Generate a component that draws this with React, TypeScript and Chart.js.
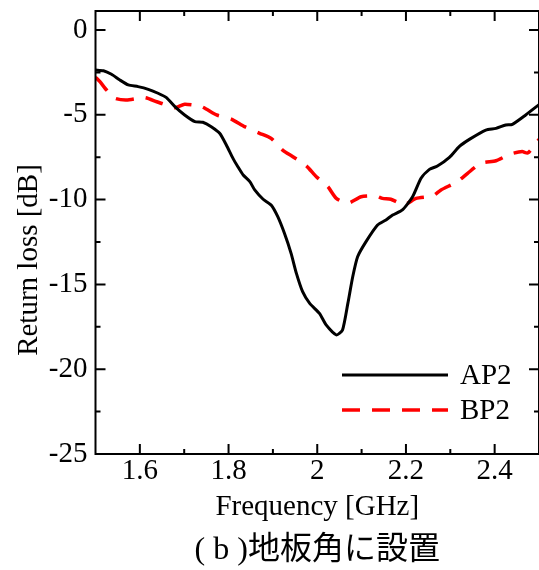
import React, { useEffect, useRef } from 'react';
import { Chart, registerables } from 'chart.js';

Chart.register(...registerables);

// ---- data ----
const apFreq = [
  1.5, 1.518, 1.536, 1.555, 1.574, 1.596, 1.619, 1.641, 1.66, 1.679, 1.701, 1.724, 1.742, 1.761,
  1.78, 1.795, 1.81, 1.821, 1.833, 1.848, 1.859, 1.878, 1.896, 1.911, 1.926, 1.941, 1.953, 1.967,
  1.983, 2.005, 2.02, 2.043, 2.057, 2.069, 2.08, 2.091, 2.11, 2.136, 2.155, 2.17, 2.192, 2.215,
  2.234, 2.253, 2.271, 2.298, 2.32, 2.343, 2.38, 2.403, 2.425, 2.44, 2.47, 2.5,
];
const apLoss = [
  -2.36, -2.4, -2.61, -2.95, -3.24, -3.34, -3.5, -3.73, -3.99, -4.52, -5.01, -5.4, -5.44, -5.7,
  -6.09, -6.78, -7.57, -8.06, -8.55, -8.94, -9.43, -9.98, -10.32, -11.01, -11.99, -13.17, -14.35, -15.43,
  -16.12, -16.71, -17.39, -17.98, -17.69, -16.12, -14.55, -13.37, -12.48, -11.5, -11.2, -10.91, -10.61, -9.83,
  -8.74, -8.22, -8.02, -7.51, -6.88, -6.45, -5.9, -5.8, -5.6, -5.56, -5.01, -4.4,
];
const bpFreq = [
  1.5, 1.51, 1.525, 1.544, 1.57, 1.611, 1.638, 1.679, 1.701, 1.739, 1.773, 1.806, 1.836, 1.87,
  1.896, 1.922, 1.945, 1.975, 1.998, 2.024, 2.043, 2.069, 2.099, 2.133, 2.147, 2.166, 2.196, 2.223,
  2.26, 2.279, 2.316, 2.339, 2.369, 2.403, 2.436, 2.462, 2.475, 2.5,
];
const bpLoss = [
  -2.78, -3.05, -3.54, -4.03, -4.13, -3.99, -4.23, -4.58, -4.38, -4.52, -5.01, -5.25, -5.7, -6.09,
  -6.39, -7.08, -7.47, -8.0, -8.65, -9.24, -9.93, -10.22, -9.83, -9.79, -9.93, -9.98, -10.3, -9.93,
  -9.79, -9.43, -8.94, -8.45, -7.86, -7.71, -7.31, -7.17, -7.25, -6.45,
];
const seriesLabels = ['AP2', 'BP2'];

const xMajorTicks = [1.6, 1.8, 2.0, 2.2, 2.4];
const xTickLabels = ['1.6', '1.8', '2', '2.2', '2.4'];
const xMinorTicks = [1.7, 1.9, 2.1, 2.3];
const yMajorTicks = [-25, -20, -15, -10, -5, 0];
const yTickLabels = ['-25', '-20', '-15', '-10', '-5', '0'];
const yMinorTicks = [-22.5, -17.5, -12.5, -7.5, -2.5];

const xTitle = 'Frequency [GHz]';
const yTitle = 'Return loss [dB]';
const caption = '( b )地板角に設置';

const SERIF = "'Liberation Serif', 'Times New Roman', serif";

const decorPlugin = {
  id: 'decor',
  afterDatasetsDraw(chart: any) {
    const { ctx, chartArea: a, scales } = chart;
    const xs = scales.x;
    const ys = scales.y;
    ctx.save();
    ctx.strokeStyle = '#000';
    ctx.lineWidth = 2;
    ctx.setLineDash([]);
    ctx.strokeRect(a.left, a.top, a.right - a.left, a.bottom - a.top);

    ctx.beginPath();
    const xTick = (vals: number[], len: number) => {
      for (const v of vals) {
        const px = xs.getPixelForValue(v);
        ctx.moveTo(px, a.bottom);
        ctx.lineTo(px, a.bottom - len);
        ctx.moveTo(px, a.top);
        ctx.lineTo(px, a.top + len);
      }
    };
    const yTick = (vals: number[], len: number) => {
      for (const v of vals) {
        const py = ys.getPixelForValue(v);
        ctx.moveTo(a.left, py);
        ctx.lineTo(a.left + len, py);
        ctx.moveTo(a.right, py);
        ctx.lineTo(a.right - len, py);
      }
    };
    xTick(xMajorTicks, 10);
    xTick(xMinorTicks, 5);
    yTick(yMajorTicks, 10);
    yTick(yMinorTicks, 5);
    ctx.stroke();

    // legend inside plot
    const ds = chart.data.datasets;
    const x0 = a.right - 197;
    const x1 = a.right - 91;
    const tx = a.right - 79;
    const rows = [a.bottom - 79, a.bottom - 44];
    ds.forEach((d: any, i: number) => {
      const y = rows[i];
      ctx.beginPath();
      ctx.strokeStyle = d.borderColor;
      ctx.lineWidth = d.borderWidth;
      ctx.setLineDash(d.borderDash || []);
      ctx.moveTo(x0, y);
      ctx.lineTo(x1, y);
      ctx.stroke();
      ctx.setLineDash([]);
      ctx.fillStyle = '#000';
      ctx.font = `29px ${SERIF}`;
      ctx.textAlign = 'left';
      ctx.textBaseline = 'middle';
      ctx.fillText(d.label, tx, y + 1);
    });

    // y-axis title
    ctx.translate(29, 260);
    ctx.rotate(-Math.PI / 2);
    ctx.fillStyle = '#000';
    ctx.font = `29px ${SERIF}`;
    ctx.textAlign = 'center';
    ctx.textBaseline = 'middle';
    ctx.fillText(yTitle, 0, 0);
    ctx.restore();
  },
};

export default function App() {
  const ref = useRef<HTMLCanvasElement | null>(null);

  useEffect(() => {
    if (!ref.current) return;
    const chart = new Chart(ref.current, {
      type: 'line',
      data: {
        datasets: [
          {
            label: seriesLabels[0],
            data: apFreq.map((x, i) => ({ x, y: apLoss[i] })),
            borderColor: '#000000',
            borderWidth: 3,
            pointRadius: 0,
            tension: 0.2,
            fill: false,
          },
          {
            label: seriesLabels[1],
            data: bpFreq.map((x, i) => ({ x, y: bpLoss[i] })),
            borderColor: '#ff0000',
            borderWidth: 3.5,
            borderDash: [18, 12],
            pointRadius: 0,
            tension: 0.2,
            fill: false,
          },
        ],
      },
      options: {
        animation: false,
        responsive: false,
        layout: { padding: { top: 11, right: -0.5, left: 0, bottom: 0 } },
        scales: {
          x: {
            type: 'linear',
            min: 1.5,
            max: 2.5,
            afterBuildTicks: (s: any) => {
              s.ticks = xMajorTicks.map((v) => ({ value: v }));
            },
            afterFit: (s: any) => {
              s.height = 77.6;
              s.paddingLeft = 0;
              s.paddingRight = 0;
            },
            ticks: {
              autoSkip: false,
              maxRotation: 0,
              padding: 0,
              color: '#000',
              font: { family: SERIF, size: 29 },
              callback: (_v: any, i: number) => xTickLabels[i],
            },
            grid: { display: false, drawTicks: false },
            border: { display: false },
            title: {
              display: true,
              text: xTitle,
              color: '#000',
              font: { family: SERIF, size: 29 },
              padding: { top: 0, bottom: 6.5 },
            },
          },
          y: {
            type: 'linear',
            min: -25,
            max: 1.12,
            afterBuildTicks: (s: any) => {
              s.ticks = yMajorTicks.map((v) => ({ value: v }));
            },
            afterFit: (s: any) => {
              s.width = 95.5;
              s.paddingTop = 0;
              s.paddingBottom = 0;
            },
            ticks: {
              padding: 8,
              color: '#000',
              font: { family: SERIF, size: 29 },
              callback: (_v: any, i: number) => yTickLabels[i],
            },
            grid: { display: false, drawTicks: false },
            border: { display: false },
          },
        },
        plugins: {
          legend: { display: false },
          tooltip: { enabled: false },
          title: {
            display: true,
            text: caption,
            position: 'bottom',
            fullSize: false,
            color: '#000',
            font: { family: "'Liberation Serif', 'Noto Sans CJK JP', sans-serif", size: 32, weight: 'normal' },
            padding: { top: 0, bottom: 0 },
          },
        },
      },
      plugins: [decorPlugin],
    } as any);
    return () => chart.destroy();
  }, []);

  return (
    <div style={{ position: 'absolute', left: 0, top: 0, width: 539, height: 570, background: '#fff' }}>
      <canvas ref={ref} width={539} height={570} style={{ display: 'block', width: 539, height: 570 }} />
    </div>
  );
}
